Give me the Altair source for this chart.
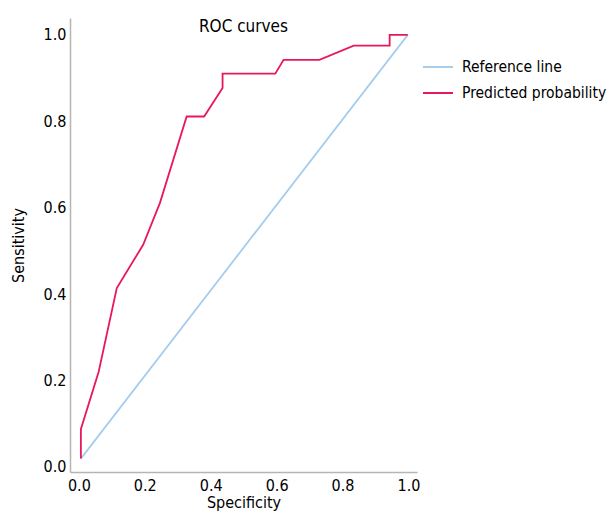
import altair as alt
import pandas as pd

# Data
pred_specificity = [0.006, 0.006, 0.06, 0.115, 0.195, 0.246, 0.327, 0.38, 0.436, 0.436,
                    0.596, 0.621, 0.73, 0.834, 0.943, 0.943, 0.998]
pred_sensitivity = [0.019, 0.087, 0.22, 0.414, 0.514, 0.611, 0.811, 0.811, 0.877, 0.91,
                    0.91, 0.942, 0.942, 0.975, 0.975, 1.0, 1.0]
ref_specificity = [0.006, 0.998]
ref_sensitivity = [0.019, 1.0]
series_names = ["Reference line", "Predicted probability"]
series_colors = ["#a6cdee", "#e8185a"]

rows = []
for i, (x, y) in enumerate(zip(ref_specificity, ref_sensitivity)):
    rows.append({"series": series_names[0], "x": x, "y": y, "idx": i})
for i, (x, y) in enumerate(zip(pred_specificity, pred_sensitivity)):
    rows.append({"series": series_names[1], "x": x, "y": y, "idx": i})
df = pd.DataFrame(rows)

FONT = "'DejaVu Sans Condensed', Roboto, sans-serif"

chart = alt.Chart(df).mark_line(strokeWidth=1.8).encode(
    x=alt.X("x:Q", title="Specificity",
            scale=alt.Scale(domain=[-0.027, 1.026], nice=False, zero=False),
            axis=alt.Axis(values=[0, 0.2, 0.4, 0.6, 0.8, 1.0], format=".1f",
                          grid=False, ticks=False, labelPadding=5,
                          titlePadding=1)),
    y=alt.Y("y:Q", title="Sensitivity",
            scale=alt.Scale(domain=[-0.012, 1.039], nice=False, zero=False),
            axis=alt.Axis(values=[0, 0.2, 0.4, 0.6, 0.8, 1.0], format=".1f",
                          grid=False, ticks=False, labelPadding=4,
                          titlePadding=17)),
    color=alt.Color("series:N",
                    scale=alt.Scale(domain=series_names, range=series_colors),
                    legend=alt.Legend(title=None, orient="none", legendX=352,
                                      legendY=33, symbolType="stroke",
                                      symbolSize=900, symbolStrokeWidth=2,
                                      labelFontSize=15.5, labelFont=FONT,
                                      labelColor="#000", rowPadding=1,
                                      labelOffset=8)),
    order="idx:Q",
).properties(
    width=347, height=454,
    title=alt.TitleParams("ROC curves", fontSize=17, font=FONT, fontWeight="normal",
                          anchor="middle", offset=-18, color="#000"),
    autosize=alt.AutoSizeParams(type="none"),
    padding={"left": 62, "top": 10, "right": 191, "bottom": 39},
).configure_view(
    stroke=None
).configure_axis(
    domainColor="#b5b5b5", domainWidth=1.5,
    labelFont=FONT, labelFontSize=16, labelColor="#000",
    titleFont=FONT, titleFontSize=16, titleColor="#000", titleFontWeight="normal",
)

chart.save("out.html", embed_options={"renderer": "svg", "actions": False})
